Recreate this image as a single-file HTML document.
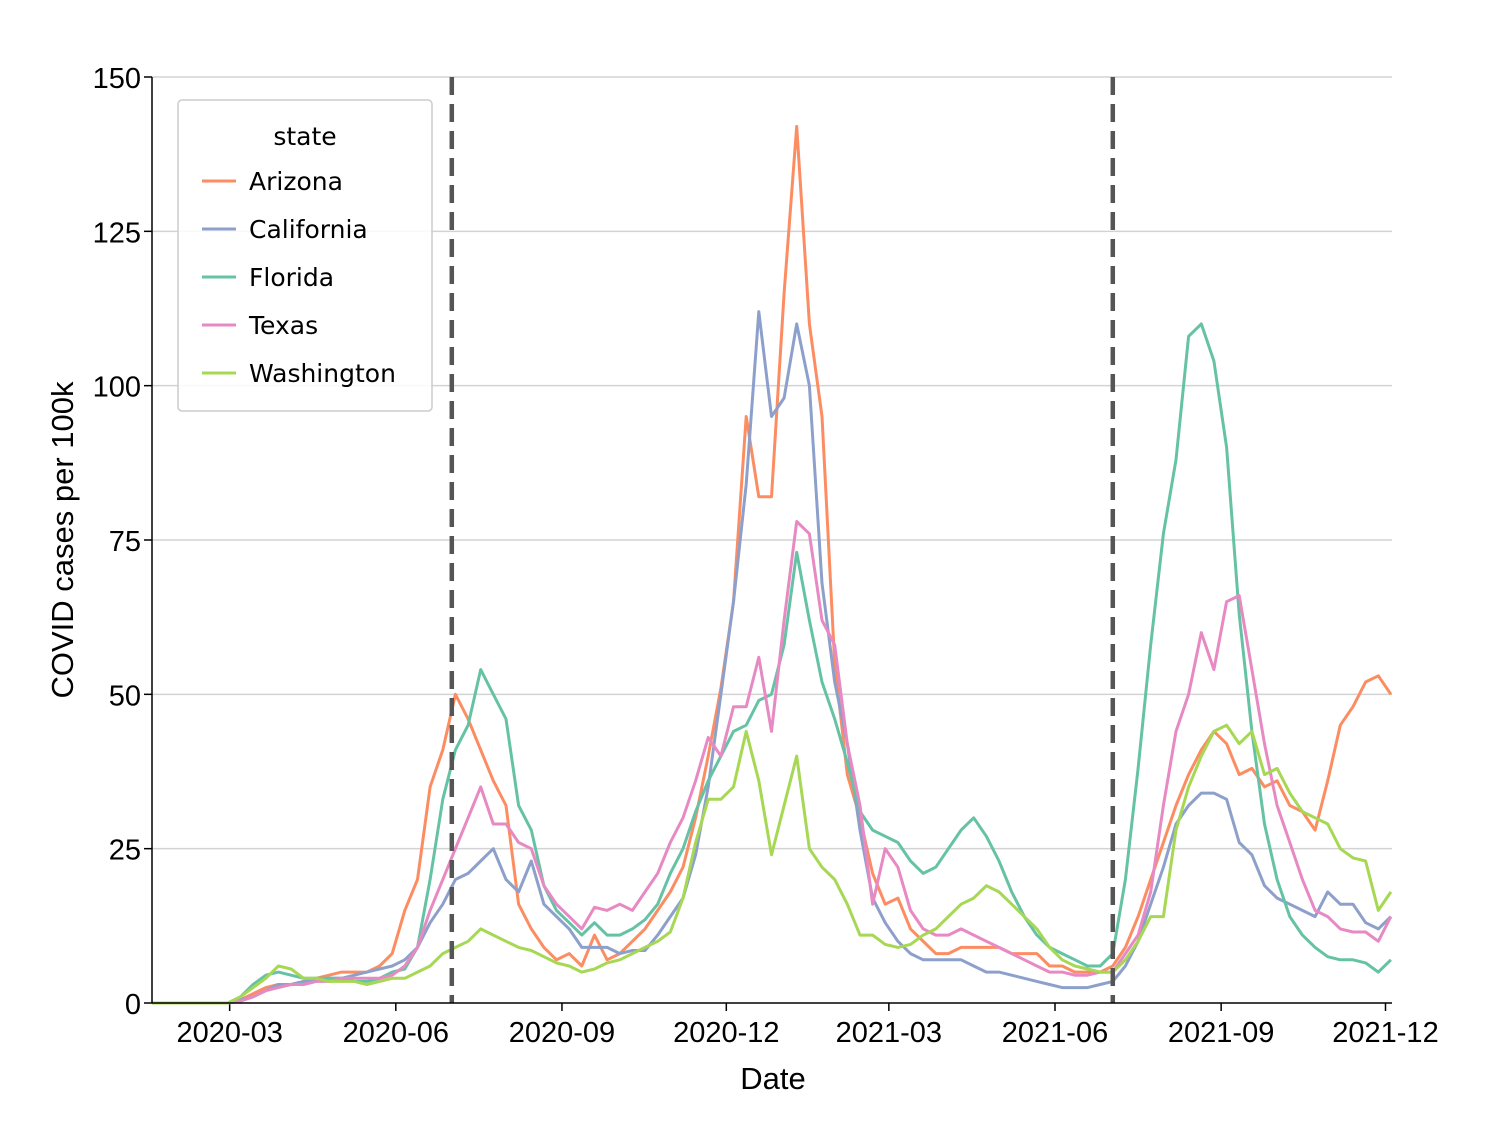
<!DOCTYPE html>
<html><head><meta charset="utf-8"><style>
body{margin:0;background:#fff;}
svg{display:block;font-family:"Liberation Sans",sans-serif;}
</style></head><body>
<svg id="chart" width="1506" height="1132" viewBox="0 0 1506 1132"></svg>
<script>
const stateNames = ["Arizona","California","Florida","Texas","Washington"];
const stateColors = ["#fc8d62","#8da0cb","#66c2a5","#e78ac3","#a6d854"];
const startDate = "2020-01-18";
const stepDays = 7;
const arizona = [0,0,0,0,0,0,0, 0.5,1.5,2.5,3,3,3.5,4,4.5,5,5,5,6,
 8,15,20,35,41,50,46,41,36,32,16,12,9,7,8,6,11,7,8,10,12,15,18,22,30,40,51,
 65,95,82,82,115,142,110,95,55,37,30,21,16,17,12,10,8,8,9,9,9,9,8,8,8,6,6,5,5,5,6,
 9,14,20,26,32,37,41,44,42,37,38,35,36,32,31,28,36,45,48,52,53,50];
const california = [0,0,0,0,0,0,0, 0.5,1,2,3,3,3.5,3.5,4,4,4.5,5,5.5,
 6,7,9,13,16,20,21,23,25,20,18,23,16,14,12,9,9,9,8,8.5,8.5,11,14,
 17,24,35,50,65,84,112,95,98,110,100,68,52,42,28,17,13,10,8,7,7,7,7,6,5,5,4.5,4,3.5,3,2.5,2.5,2.5,3,3.5,
 6,10,16,22,29,32,34,34,33,26,24,19,17,16,15,14,18,16,16,13,12,14];
const florida = [0,0,0,0,0,0,0, 1,3,4.5,5,4.5,4,4,4,4,3.5,3.5,4,5,
 5.5,9,20,33,41,45,54,50,46,32,28,19,15,13,11,13,11,11,12,13.5,16,21,
 25,31,36,40,44,45,49,50,58,73,62,52,46,39,31,28,27,
 26,23,21,22,25,28,30,27,23,18,14,11,9,8,7,6,6,8,
 20,38,58,76,88,108,110,104,90,63,44,29,20,14,11,9,7.5,7,7,6.5,5,7];
const texas = [0,0,0,0,0,0,0, 0.3,1,2,2.5,3,3,3.5,3.5,4,4,4,4,4.5,
 6,9,15,20,25,30,35,29,29,26,25,19,16,14,12,15.5,15,16,15,18,21,26,
 30,36,43,40,48,48,56,44,62,78,76,62,58,42,32,16,25,22,15,12,11,11,12,11,10,9,8,7,6,5,5,4.5,4.5,5,5,
 8,11,18,32,44,50,60,54,65,66,54,42,32,26,20,15,14,12,11.5,11.5,10,14];
const washington = [0,0,0,0,0,0,0, 1,2.5,4,6,5.5,4,4,3.5,3.5,3.5,3,3.5,4,
 4,5,6,8,9,10,12,11,10,9,8.5,7.5,6.5,6,5,5.5,6.5,7,8,9,10,11.5,
 17,26,33,33,35,44,36,24,32,40,25,22,20,16,11,11,9.5,9,
 9.5,11,12,14,16,17,19,18,16,14,12,9,7,6,5.5,5,5,
 7,10,14,14,28,35,40,44,45,42,44,37,38,34,31,30,29,25,23.5,23,15,18];
const yTicks = [0,25,50,75,100,125,150];
const xTickLabels = ["2020-03","2020-06","2020-09","2020-12","2021-03","2021-06","2021-09","2021-12"];
const markerDates = ["2020-07-02","2021-07-03"];

const NS="http://www.w3.org/2000/svg";
const svg=document.getElementById('chart');
const L=152,R=1392,T=77,B=1003;
const t0=Date.parse(startDate+"T00:00:00Z");
const pxPerDay=1.806;
function xDate(s){return L+(Date.parse(s+(s.length===7?"-01":"")+"T00:00:00Z")-t0)/86400000*pxPerDay;}
function xIdx(i){return L+i*stepDays*pxPerDay;}
function y(v){return B-(v/150)*(B-T);}
function mk(tag,attrs){const e=document.createElementNS(NS,tag);for(const k in attrs)e.setAttribute(k,attrs[k]);svg.appendChild(e);return e;}

yTicks.forEach(v=>{
  if(v>0){const g=mk('line',{x1:L,x2:R,y1:y(v),y2:y(v),stroke:'#d3d3d3','stroke-width':1.5});
  
  }
  const tk=mk('line',{x1:L-8,x2:L,y1:y(v),y2:y(v),stroke:'#000','stroke-width':1.5});
  
  
  const t=mk('text',{x:L-11,y:y(v)+11,'text-anchor':'end','font-size':29,fill:'#000'});
  t.textContent=v;
  
  
});
xTickLabels.forEach(s=>{
  const x=xDate(s);
  const tk=mk('line',{x1:x,x2:x,y1:B,y2:B+8,stroke:'#000','stroke-width':1.5});
  
  
  const t=mk('text',{x:x,y:B+39,'text-anchor':'middle','font-size':29,fill:'#000'});
  t.textContent=s;
  
  
});
const series=[arizona,california,florida,texas,washington];
series.forEach((arr,si)=>{
  const d=arr.map((v,i)=>(i?'L':'M')+xIdx(i).toFixed(1)+','+y(v).toFixed(1)).join(' ');
  const p=mk('path',{d:d,fill:'none',stroke:stateColors[si],'stroke-width':3,'stroke-linejoin':'round'});
  
  
});
markerDates.forEach(s=>{
  const x=xDate(s);
  const l=mk('line',{x1:x,x2:x,y1:T,y2:B,stroke:'#555','stroke-width':4.5,'stroke-dasharray':'18,9'});
  
  
});
const sp1=mk('line',{x1:L,x2:L,y1:T,y2:B,stroke:'#000','stroke-width':1.5});


const sp2=mk('line',{x1:L,x2:R,y1:B,y2:B,stroke:'#000','stroke-width':1.5});


const xt=mk('text',{x:773,y:1089,'text-anchor':'middle','font-size':31,fill:'#000'});
xt.textContent='Date';


const yt=mk('text',{x:0,y:0,'text-anchor':'middle','font-size':31,fill:'#000',transform:'translate(73,540) rotate(-90)'});
yt.textContent='COVID cases per 100k';


const lb=mk('rect',{x:178,y:100,width:254,height:311,rx:4,fill:'#fff','fill-opacity':0.85,stroke:'#ccc','stroke-width':1.5});


const lt=mk('text',{x:305,y:145,'text-anchor':'middle','font-size':25,fill:'#000','font-family':'"DejaVu Sans",sans-serif'});
lt.textContent='state';


stateNames.forEach((n,i)=>{
  const yy=181+i*48;
  const ln=mk('line',{x1:202,x2:236,y1:yy,y2:yy,stroke:stateColors[i],'stroke-width':3});
  
  
  const tx=mk('text',{x:249,y:yy+9,'font-size':25,fill:'#000','font-family':'"DejaVu Sans",sans-serif'});
  tx.textContent=n;
  
  
});
</script>
</body></html>
